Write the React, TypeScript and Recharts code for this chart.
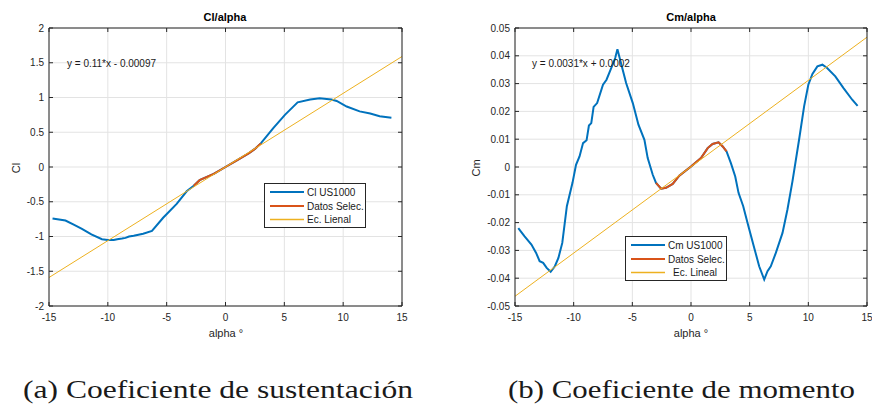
import { LineChart, Line, XAxis, YAxis, CartesianGrid, Legend } from "recharts";

// ---------------------------------------------------------------------------
// Data
// ---------------------------------------------------------------------------

const alphaTicks = [-15, -10, -5, 0, 5, 10, 15];
const clTicks = [-2, -1.5, -1, -0.5, 0, 0.5, 1, 1.5, 2];
const cmTicks = [-0.05, -0.04, -0.03, -0.02, -0.01, 0, 0.01, 0.02, 0.03, 0.04, 0.05];

const clAlpha = [
  -14.7, -13.6, -12.9, -12.2, -11.4, -10.5, -10.0, -9.5, -9.2, -8.8, -8.5, -8.2, -7.8, -7.0,
  -6.25, -5.3, -4.15, -3.3, -2.7, -2.2, -1.0, 0, 1.0, 2.0, 2.5, 3.0, 4.06, 5.05, 6.13, 7.2,
  8.0, 9.0, 9.45, 10.3, 11.4, 12.3, 13.1, 14.1,
];
const clValues = [
  -0.74, -0.77, -0.83, -0.89, -0.97, -1.04, -1.05, -1.05, -1.04, -1.03, -1.02, -1.0, -0.99, -0.96,
  -0.92, -0.73, -0.53, -0.35, -0.27, -0.19, -0.1, 0, 0.1, 0.2, 0.26, 0.34, 0.56, 0.75, 0.93, 0.97,
  0.99, 0.97, 0.95, 0.87, 0.8, 0.77, 0.73, 0.71,
];
const clSelAlpha = [-2.7, -2.2, -1.0, 0, 1.0, 2.0, 2.5, 3.0];
const clSelValues = [-0.27, -0.19, -0.1, 0, 0.1, 0.2, 0.26, 0.34];
const clFitAlpha = [-15, 15];
const clFitValues = [-1.59, 1.59];

const cmAlpha = [
  -14.72, -14.2, -13.6, -13.2, -12.9, -12.6, -12.3, -11.96, -11.6, -11.3, -10.97, -10.58, -10.1,
  -9.8, -9.5, -9.2, -8.9, -8.7, -8.5, -8.3, -8.0, -7.5, -7.2, -6.8, -6.46, -6.27, -6.04, -5.53,
  -4.96, -4.48, -3.97, -3.69, -3.26, -2.98, -2.55, -2.13, -1.56, -1.0, 0, 0.85, 1.42, 1.84, 2.35,
  2.7, 3.03, 3.4, 3.77, 4.05, 4.45, 4.82, 5.39, 5.81, 6.24, 6.52, 6.8, 7.23, 7.8, 8.22, 8.65, 9.21,
  9.64, 10.0, 10.35, 10.77, 11.2, 11.6, 12.3, 13.0, 13.74, 14.2,
];
const cmValues = [
  -0.022, -0.0249, -0.0279, -0.0309, -0.0339, -0.0345, -0.0363, -0.0377, -0.0357, -0.0327,
  -0.0273, -0.0141, -0.0057, 0.0008, 0.0038, 0.0086, 0.0096, 0.0149, 0.0158, 0.0216, 0.023,
  0.0296, 0.0314, 0.0356, 0.0392, 0.0424, 0.0386, 0.0302, 0.023, 0.0152, 0.0098, 0.0032, -0.0028,
  -0.0057, -0.0078, -0.0075, -0.0061, -0.0031, 0.0002, 0.0032, 0.0068, 0.0083, 0.0089, 0.0074,
  0.0056, 0.0014, -0.0034, -0.0093, -0.0141, -0.0201, -0.0291, -0.0357, -0.0405, -0.0375,
  -0.0357, -0.0309, -0.0237, -0.0153, -0.0051, 0.0098, 0.0218, 0.0296, 0.0335, 0.0362, 0.0368,
  0.0356, 0.0326, 0.0284, 0.0242, 0.022,
];
const cmSelAlpha = [-2.98, -2.55, -2.13, -1.56, -1.0, 0, 0.85, 1.42, 1.84, 2.35, 2.7, 3.03];
const cmSelValues = [
  -0.0057, -0.0078, -0.0075, -0.0061, -0.0031, 0.0002, 0.0032, 0.0068, 0.0083, 0.0089, 0.0074,
  0.0056,
];
const cmFitAlpha = [-15, 15];
const cmFitValues = [-0.0465, 0.0467];

// ---------------------------------------------------------------------------
// Styles
// ---------------------------------------------------------------------------

const BLUE = "#0072BD";
const RED = "#D95319";
const YELLOW = "#EDB120";
const AXIS = "#262626";
const GRID = "#e3e3e3";
const SANS = "'Liberation Sans', Arial, Helvetica, sans-serif";
const SERIF = "'Liberation Serif', 'Times New Roman', serif";

const toPoints = (xs: number[], ys: number[]) => xs.map((x, i) => ({ x, y: ys[i] }));

const tickStyle = { fontSize: 10, fill: AXIS, fontFamily: SANS };
const emptyTick = () => <g />;

const legendWidths = [2, 2, 1.5];
const legendRows = [9, 23, 36.5];

const makeLegend = (indents: number[]) => (props: any) => {
  const payload = props.payload || [];
  return (
    <svg width={102} height={45} style={{ display: "block" }}>
      <rect x={0.5} y={0.5} width={101} height={44} fill="#fff" stroke={AXIS} />
      {payload.map((p: any, i: number) => {
        const cy = legendRows[i];
        return (
          <g key={i}>
            <line x1={6} x2={40} y1={cy} y2={cy} stroke={p.color} strokeWidth={legendWidths[i]} />
            <text
              x={43 + (indents[i] || 0)}
              y={cy + 3.6}
              fontSize={10}
              fontFamily={SANS}
              fill="#1a1a1a"
            >
              {p.value}
            </text>
          </g>
        );
      })}
    </svg>
  );
};

// ---------------------------------------------------------------------------
// Panel
// ---------------------------------------------------------------------------

interface PanelProps {
  left: number;
  margin: { top: number; left: number; right: number; bottom: number };
  rightAxisWidth: number;
  yTicks: number[];
  main: { x: number; y: number }[];
  sel: { x: number; y: number }[];
  fit: { x: number; y: number }[];
  names: string[];
  legendPos: { left: number; top: number };
  indents: number[];
}

const Panel = ({
  left,
  margin,
  rightAxisWidth,
  yTicks,
  main,
  sel,
  fit,
  names,
  legendPos,
  indents,
}: PanelProps) => {
  const yDomain = [yTicks[0], yTicks[yTicks.length - 1]];
  return (
    <div style={{ position: "absolute", left, top: 0 }}>
      <LineChart width={436} height={340} margin={margin}>
        <CartesianGrid stroke={GRID} strokeWidth={1} />
        <XAxis
          dataKey="x"
          type="number"
          domain={[-15, 15]}
          ticks={alphaTicks}
          allowDataOverflow
          height={30}
          stroke={AXIS}
          tick={tickStyle}
          tickSize={-4}
          tickMargin={12}
        />
        <XAxis
          xAxisId="top"
          orientation="top"
          dataKey="x"
          type="number"
          domain={[-15, 15]}
          ticks={alphaTicks}
          allowDataOverflow
          height={10}
          stroke={AXIS}
          tick={emptyTick}
          tickSize={-4}
        />
        <YAxis
          type="number"
          domain={yDomain}
          ticks={yTicks}
          allowDataOverflow
          width={40}
          stroke={AXIS}
          tick={tickStyle}
          tickSize={-4}
          tickMargin={9}
        />
        <YAxis
          yAxisId="right"
          orientation="right"
          type="number"
          domain={yDomain}
          ticks={yTicks}
          allowDataOverflow
          width={rightAxisWidth}
          stroke={AXIS}
          tick={emptyTick}
          tickSize={-4}
        />
        <Line
          data={main}
          dataKey="y"
          name={names[0]}
          stroke={BLUE}
          strokeWidth={2}
          dot={false}
          activeDot={false}
          isAnimationActive={false}
        />
        <Line
          data={sel}
          dataKey="y"
          name={names[1]}
          stroke={RED}
          strokeWidth={2}
          dot={false}
          activeDot={false}
          isAnimationActive={false}
        />
        <Line
          data={fit}
          dataKey="y"
          name={names[2]}
          stroke={YELLOW}
          strokeWidth={1}
          dot={false}
          activeDot={false}
          isAnimationActive={false}
        />
        <Legend
          layout="horizontal"
          verticalAlign="middle"
          align="center"
          content={makeLegend(indents)}
          wrapperStyle={{ left: legendPos.left, top: legendPos.top, width: 102, height: 45 }}
        />
      </LineChart>
    </div>
  );
};

// ---------------------------------------------------------------------------
// App
// ---------------------------------------------------------------------------

export default function App() {
  return (
    <div
      style={{
        position: "absolute",
        left: 0,
        top: 0,
        width: 872,
        height: 404,
        background: "#fff",
        overflow: "hidden",
      }}
    >
      <Panel
        left={0}
        margin={{ top: 18, left: 9, right: 24, bottom: 4 }}
        rightAxisWidth={10}
        yTicks={clTicks}
        main={toPoints(clAlpha, clValues)}
        sel={toPoints(clSelAlpha, clSelValues)}
        fit={toPoints(clFitAlpha, clFitValues)}
        names={["Cl US1000", "Datos Selec.", "Ec. Lienal"]}
        legendPos={{ left: 264, top: 183 }}
        indents={[0, 0, 0]}
      />
      <Panel
        left={436}
        margin={{ top: 18, left: 39, right: 0, bottom: 4 }}
        rightAxisWidth={5}
        yTicks={cmTicks}
        main={toPoints(cmAlpha, cmValues)}
        sel={toPoints(cmSelAlpha, cmSelValues)}
        fit={toPoints(cmFitAlpha, cmFitValues)}
        names={["Cm US1000", "Datos Selec.", "Ec. Lineal"]}
        legendPos={{ left: 189, top: 236 }}
        indents={[0, 0, 5]}
      />
      <svg
        width={872}
        height={404}
        style={{ position: "absolute", left: 0, top: 0, pointerEvents: "none" }}
      >
        <g fontFamily={SANS} fill={AXIS}>
          <text x={225} y={21} fontSize={11} fontWeight="bold" textAnchor="middle" fill="#000">
            Cl/alpha
          </text>
          <text x={691} y={21} fontSize={11} fontWeight="bold" textAnchor="middle" fill="#000">
            Cm/alpha
          </text>
          <text x={226} y={337} fontSize={11} textAnchor="middle">
            alpha °
          </text>
          <text x={691} y={337} fontSize={11} textAnchor="middle">
            alpha °
          </text>
          <text x={19.5} y={168} fontSize={11} textAnchor="middle" transform="rotate(-90 19.5 168)">
            Cl
          </text>
          <text x={480} y={168} fontSize={11} textAnchor="middle" transform="rotate(-90 480 168)">
            Cm
          </text>
          <text x={67} y={67} fontSize={10} fill="#1a1a1a">
            y = 0.11*x - 0.00097
          </text>
          <text x={532} y={67} fontSize={10} fill="#1a1a1a">
            y = 0.0031*x + 0.0002
          </text>
        </g>
        <g fontFamily={SERIF} fill="#1a1a1a" fontSize={25}>
          <text x={23} y={398} textLength={390} lengthAdjust="spacingAndGlyphs">
            (a) Coeficiente de sustentación
          </text>
          <text x={508} y={398} textLength={347} lengthAdjust="spacingAndGlyphs">
            (b) Coeficiente de momento
          </text>
        </g>
      </svg>
    </div>
  );
}
